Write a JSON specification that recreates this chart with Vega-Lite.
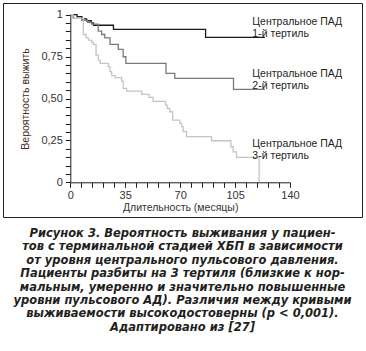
{
  "$schema": "https://vega.github.io/schema/vega-lite/v6.json",
  "width": 359,
  "height": 214,
  "autosize": {"type": "none"},
  "padding": {"left": 3, "top": 3, "right": 4, "bottom": 134},
  "config": {
    "view": {"stroke": "#231f20", "strokeWidth": 1},
    "font": "Liberation Sans"
  },
  "title": {
    "text": [
      "Рисунок 3. Вероятность выживания у пациен-",
      "тов с терминальной стадией ХБП в зависимости",
      "от уровня центрального пульсового давления.",
      "Пациенты разбиты на 3 тертиля (близкие к нор-",
      "мальным, умеренно и значительно повышенные",
      "уровни пульсового АД). Различия между кривыми",
      "выживаемости высокодостоверны (p < 0,001).",
      "Адаптировано из [27]"
    ],
    "orient": "bottom",
    "anchor": "middle",
    "frame": "group",
    "offset": 11,
    "font": "DejaVu Sans",
    "fontSize": 11.5,
    "fontStyle": "italic",
    "fontWeight": "bold",
    "color": "#231f20",
    "lineHeight": 13.4
  },
  "datasets": {
    "curves": [
      {"series": "1", "t": 0, "s": 1},
      {"series": "1", "t": 4.3, "s": 0.988},
      {"series": "1", "t": 7.4, "s": 0.975},
      {"series": "1", "t": 10.4, "s": 0.964},
      {"series": "1", "t": 13.4, "s": 0.951},
      {"series": "1", "t": 14.8, "s": 0.937},
      {"series": "1", "t": 27.5, "s": 0.912},
      {"series": "1", "t": 86.2, "s": 0.865},
      {"series": "1", "t": 124, "s": 0.865},
      {"series": "2", "t": 0, "s": 1},
      {"series": "2", "t": 2, "s": 0.978},
      {"series": "2", "t": 7.2, "s": 0.966},
      {"series": "2", "t": 11, "s": 0.955},
      {"series": "2", "t": 13.6, "s": 0.944},
      {"series": "2", "t": 17.8, "s": 0.902},
      {"series": "2", "t": 20, "s": 0.882},
      {"series": "2", "t": 22, "s": 0.862},
      {"series": "2", "t": 25.3, "s": 0.823},
      {"series": "2", "t": 30.6, "s": 0.793},
      {"series": "2", "t": 33.7, "s": 0.749},
      {"series": "2", "t": 35.4, "s": 0.71},
      {"series": "2", "t": 61, "s": 0.65},
      {"series": "2", "t": 66.6, "s": 0.62},
      {"series": "2", "t": 104, "s": 0.555},
      {"series": "2", "t": 124, "s": 0.555},
      {"series": "3", "t": 0, "s": 1},
      {"series": "3", "t": 1.5, "s": 0.978},
      {"series": "3", "t": 8.3, "s": 0.882},
      {"series": "3", "t": 10, "s": 0.862},
      {"series": "3", "t": 11.5, "s": 0.848},
      {"series": "3", "t": 13.6, "s": 0.835},
      {"series": "3", "t": 14.7, "s": 0.823},
      {"series": "3", "t": 16.4, "s": 0.759},
      {"series": "3", "t": 17.8, "s": 0.729},
      {"series": "3", "t": 19, "s": 0.71},
      {"series": "3", "t": 24.2, "s": 0.69},
      {"series": "3", "t": 25.3, "s": 0.66},
      {"series": "3", "t": 26.4, "s": 0.636},
      {"series": "3", "t": 28.5, "s": 0.624},
      {"series": "3", "t": 32.7, "s": 0.604},
      {"series": "3", "t": 33.7, "s": 0.56},
      {"series": "3", "t": 35.9, "s": 0.544},
      {"series": "3", "t": 45.5, "s": 0.525},
      {"series": "3", "t": 50.3, "s": 0.507},
      {"series": "3", "t": 52.8, "s": 0.483},
      {"series": "3", "t": 60.7, "s": 0.461},
      {"series": "3", "t": 61.7, "s": 0.441},
      {"series": "3", "t": 63.4, "s": 0.421},
      {"series": "3", "t": 65.2, "s": 0.371},
      {"series": "3", "t": 69.8, "s": 0.352},
      {"series": "3", "t": 70.9, "s": 0.332},
      {"series": "3", "t": 71.9, "s": 0.302},
      {"series": "3", "t": 74.1, "s": 0.272},
      {"series": "3", "t": 90, "s": 0.248},
      {"series": "3", "t": 102.3, "s": 0.212},
      {"series": "3", "t": 103.8, "s": 0.182},
      {"series": "3", "t": 105.9, "s": 0.149},
      {"series": "3", "t": 120.3, "s": 0}
    ],
    "labels": [
      {"series": "1", "t": 116, "s": 0.957, "label": "Центральное ПАД\n1-й тертиль"},
      {"series": "2", "t": 116, "s": 0.648, "label": "Центральное ПАД\n2-й тертиль"},
      {"series": "3", "t": 116, "s": 0.229, "label": "Центральное ПАД\n3-й тертиль"}
    ]
  },
  "encoding": {
    "x": {
      "field": "t",
      "type": "quantitative",
      "scale": {"domain": [0, 140], "range": [67.3, 287]},
      "axis": {
        "values": [0, 7, 14, 21, 28, 35, 42, 49, 56, 63, 70, 77, 84, 91, 98, 105, 112, 119, 126, 133, 140],
        "labelExpr": "datum.value % 35 === 0 ? datum.label : ''",
        "labelOverlap": false,
        "offset": -34.7,
        "grid": false,
        "tickSize": 5,
        "title": "Длительность (месяцы)",
        "domainColor": "#231f20",
        "tickColor": "#231f20",
        "labelFont": "Liberation Sans",
        "labelFontSize": 11,
        "labelColor": "#333333",
        "labelPadding": 2,
        "labelFlush": false,
        "titleFont": "Liberation Sans",
        "titleFontSize": 10.5,
        "titleFontWeight": "normal",
        "titleColor": "#333333",
        "titlePadding": 2
      }
    },
    "y": {
      "field": "s",
      "type": "quantitative",
      "scale": {"domain": [0, 1], "range": [179.3, 11.7], "nice": false},
      "axis": {
        "values": [0, 0.05, 0.1, 0.15, 0.2, 0.25, 0.3, 0.35, 0.4, 0.45, 0.5, 0.55, 0.6, 0.65, 0.7, 0.75, 0.8, 0.85, 0.9, 0.95, 1],
        "labelExpr": "abs(datum.value) < 0.000001 ? '0' : abs(datum.value - 1) < 0.000001 ? '1' : abs(datum.value - 0.25) < 0.000001 ? '0,25' : abs(datum.value - 0.5) < 0.000001 ? '0,50' : abs(datum.value - 0.75) < 0.000001 ? '0,75' : ''",
        "labelOverlap": false,
        "offset": -67.3,
        "grid": false,
        "tickSize": 5,
        "title": "Вероятность выжить",
        "domainColor": "#231f20",
        "tickColor": "#231f20",
        "labelFont": "Liberation Sans",
        "labelFontSize": 11,
        "labelColor": "#333333",
        "labelPadding": 3,
        "labelFlush": false,
        "titleFont": "Liberation Sans",
        "titleFontSize": 10.5,
        "titleFontWeight": "normal",
        "titleColor": "#4a2a22",
        "titlePadding": 10
      }
    }
  },
  "layer": [
    {
      "data": {"name": "curves"},
      "mark": {"type": "line", "interpolate": "step-after"},
      "encoding": {
        "color": {
          "field": "series",
          "type": "nominal",
          "scale": {"domain": ["1", "2", "3"], "range": ["#1a1a1a", "#7a7a7a", "#c4c4c4"]},
          "legend": null
        },
        "strokeWidth": {
          "field": "series",
          "type": "nominal",
          "scale": {"domain": ["1", "2", "3"], "range": [1.3, 1.3, 1.8]},
          "legend": null
        }
      }
    },
    {
      "data": {"name": "labels"},
      "mark": {
        "type": "text",
        "align": "left",
        "baseline": "middle",
        "lineBreak": "\n",
        "font": "Liberation Sans",
        "fontSize": 10.5,
        "lineHeight": 12.5,
        "color": "#231f20"
      },
      "encoding": {
        "text": {"field": "label"}
      }
    }
  ]
}
